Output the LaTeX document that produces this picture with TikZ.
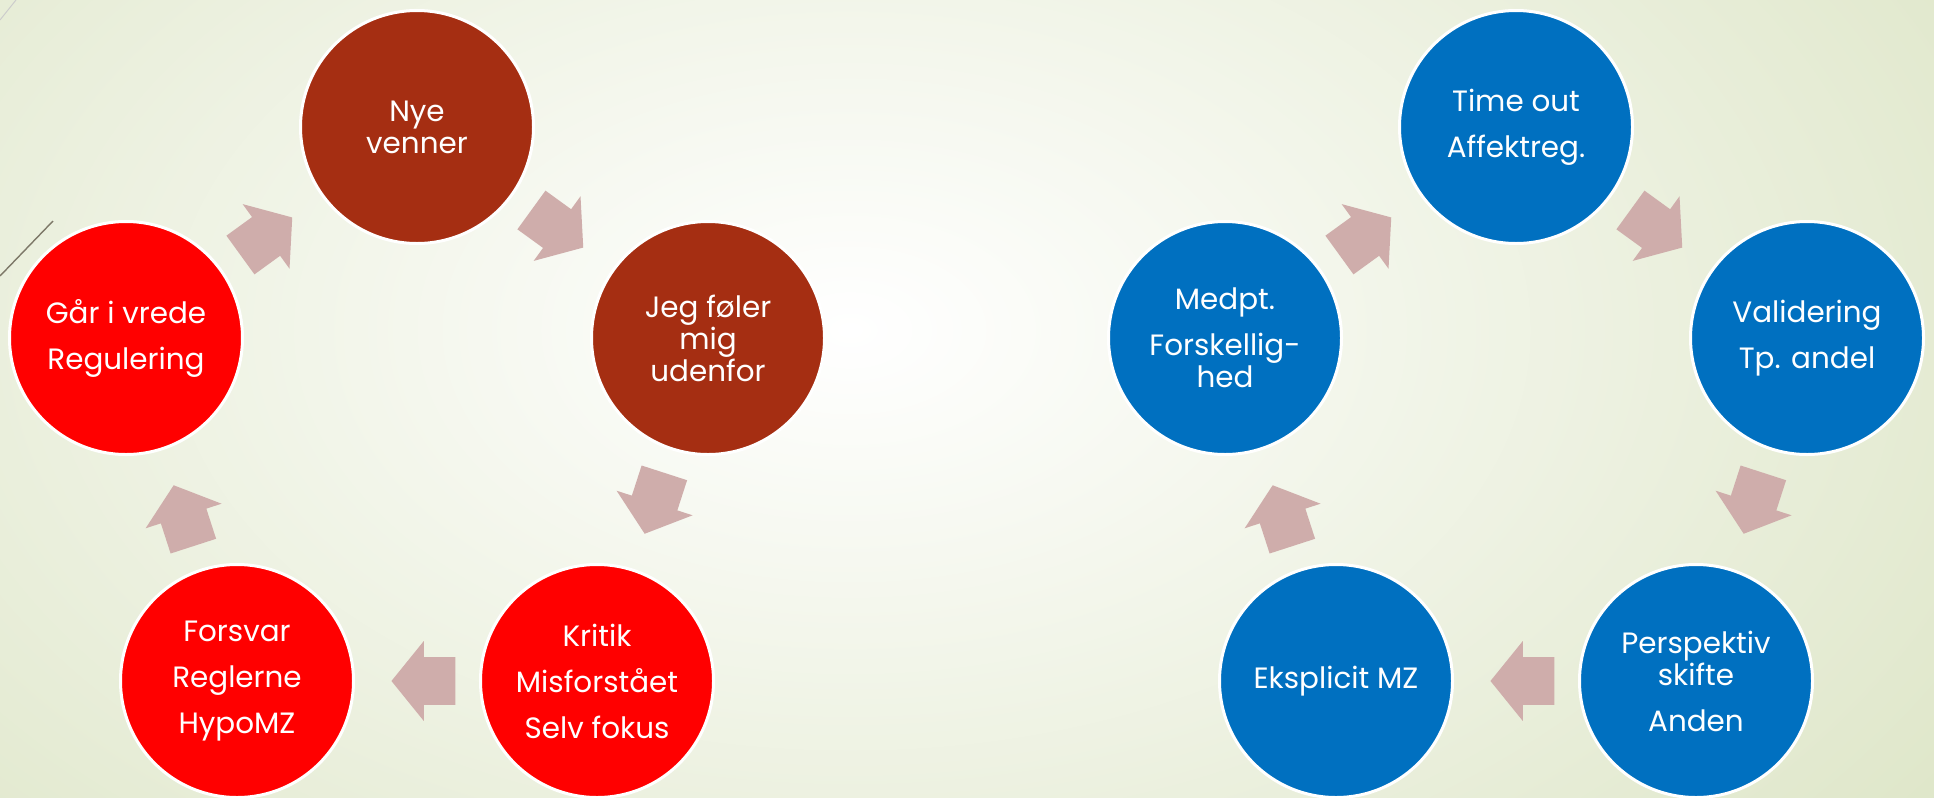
\documentclass[tikz,border=0pt]{standalone}
\usepackage{fontspec}
\setmainfont{Poppins}
\usetikzlibrary{shapes, positioning}
\definecolor{bggreen}{RGB}{222,230,200}
\definecolor{rust}{RGB}{165,46,18}
\definecolor{alarm}{RGB}{255,0,0}
\definecolor{calm}{RGB}{0,112,192}
\definecolor{rose}{RGB}{207,173,171}
\definecolor{wisp}{RGB}{125,120,104}
\tikzset{
  phase/.style={circle, draw=white, line width=1.5pt, minimum size=116.5pt, inner sep=0pt, align=center, text=white, font=\fontsize{14.7}{16}\selectfont},
  dark/.style={phase, fill=rust},
  hot/.style={phase, fill=alarm},
  cool/.style={phase, fill=calm},
  turn/.style={single arrow, draw=none, fill=rose, inner xsep=0pt, inner ysep=11.75pt, minimum height=32pt, single arrow head extend=8pt, single arrow tip angle=102, sloped, allow upside down, pos=0.37},
}

\begin{document}
\begin{tikzpicture}[x=0.5pt, y=-0.5pt]
  \useasboundingbox (0,0) rectangle (1934,798);
  \begin{scope}
    \clip (0,0) rectangle (1934,798);
    \fill[bggreen] (0,0) rectangle (1934,798);
    \shade[inner color=white, outer color=bggreen] (850,330) ellipse (680pt and 420pt);
  \end{scope}
  \draw[gray!40, line width=0.5pt] (0,20) -- (16,0);
  \draw[wisp, line width=0.7pt] (0,276) -- (53,221);

  % left cycle
  \node[dark] (nye) at (417,127) {Nye\\venner};
  \node[dark] (jeg) at (708,338) {Jeg føler\\mig\\udenfor};
  \node[hot] (kritik) at (597,681) {Kritik\\[7pt]Misforstået\\[7pt]Selv fokus};
  \node[hot] (forsvar) at (237,681) {Forsvar\\[7pt]Reglerne\\[7pt]HypoMZ};
  \node[hot] (vrede) at (126,338) {Går i vrede\\[7pt]Regulering};

  \path (nye) -- node[turn] (a1) {} (jeg);
  \path (jeg) -- node[turn] (a2) {} (kritik);
  \path (kritik) -- node[turn] (a3) {} (forsvar);
  \path (forsvar) -- node[turn] (a4) {} (vrede);
  \path (vrede) -- node[turn] (a5) {} (nye);

  % right cycle
  \node[cool] (timeout) at (1516,127) {Time out\\[7pt]Affektreg.};
  \node[cool] (valid) at (1807,338) {Validering\\[7pt]Tp. andel};
  \node[cool] (persp) at (1696,681) {Perspektiv\\skifte\\[7pt]Anden};
  \node[cool] (ekspl) at (1336,681) {Eksplicit MZ};
  \node[cool] (medpt) at (1225,338) {Medpt.\\[7pt]Forskellig-\\hed};

  \path (timeout) -- node[turn] (b1) {} (valid);
  \path (valid) -- node[turn] (b2) {} (persp);
  \path (persp) -- node[turn] (b3) {} (ekspl);
  \path (ekspl) -- node[turn] (b4) {} (medpt);
  \path (medpt) -- node[turn] (b5) {} (timeout);
\end{tikzpicture}
\end{document}
